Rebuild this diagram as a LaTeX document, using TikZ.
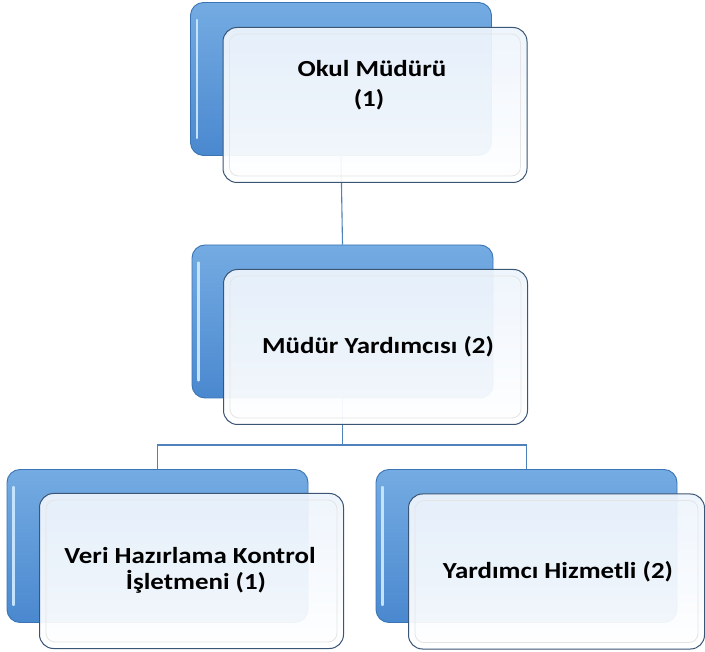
\documentclass[tikz,border=0pt]{standalone}
\usepackage{fontspec}
\setmainfont{Carlito}
\usetikzlibrary{calc}
\definecolor{bbTop}{HTML}{74ABE2}
\definecolor{bbBot}{HTML}{4A88CF}
\definecolor{bbLine}{HTML}{3A74B4}
\definecolor{fbTop}{HTML}{EDF4FC}
\definecolor{fbLine}{HTML}{3B5575}
\definecolor{conn}{HTML}{4F81BD}
\definecolor{hiLite}{HTML}{C4E3FF}
\tikzset{
  backbox/.style={draw=bbLine, line width=0.9pt, rounded corners=13pt,
    top color=bbTop, bottom color=bbBot, minimum width=301pt, minimum height=153pt, inner sep=0pt},
  frontbox/.style={draw=fbLine, line width=1pt, rounded corners=14pt,
    top color=fbTop, bottom color=white, fill opacity=0.94,
    minimum width=304pt, minimum height=155pt, inner sep=0pt},
  innerline/.style={draw=black!10, line width=0.8pt, rounded corners=9pt},
  hl/.style={draw=hiLite, line width=2.5pt, line cap=round},
  connector/.style={draw=conn, line width=1.1pt},
  lbl/.style={font=\bfseries\fontsize{23}{28}\selectfont, anchor=base, inner sep=0pt, text=black}
}
\newcommand{\wide}[1]{\scalebox{1.17}[1]{#1}}
\begin{document}
\begin{tikzpicture}[x=1pt,y=-1pt]
\useasboundingbox (0,0) rectangle (705,652);
\coordinate (p1) at (341,79);
\coordinate (p2) at (342.5,321.5);
\coordinate (p3) at (157.5,546);
\coordinate (p4) at (526.5,546);
\coordinate (bar) at (0,445);
% back boxes
\node[backbox] (b1) at (p1) {};
\node[backbox] (b2) at (p2) {};
\node[backbox] (b3) at (p3) {};
\node[backbox] (b4) at (p4) {};
\foreach \b in {b1,b2,b3,b4}{
  \draw[hl] ($(\b.north west)+(7,18)$) -- ($(\b.south west)+(7,-18)$);
}
% connectors
\draw[connector] (b1.south) -- (b2.north);
\coordinate (j) at (b2.south |- bar);
\draw[connector] (b2.south) -- (j);
\draw[connector] (b3.north) |- (j) -| (b4.north);
% front boxes
\node[frontbox] (f1) at (375,105) {};
\node[frontbox] (f2) at (375.5,347) {};
\node[frontbox] (f3) at (191.5,571) {};
\node[frontbox, minimum width=296pt] (f4) at (556.5,571.5) {};
\foreach \f in {f1,f2,f3,f4}{
  \draw[innerline] ($(\f.north west)+(7,7)$) rectangle ($(\f.south east)+(-7,-7)$);
}
% labels
\node[lbl] (t1a) at (372,77) {\wide{Okul Müdürü}};
\node[lbl] (t1b) at (369,107) {\wide{(1)}};
\node[lbl] (t2) at (378,354) {\wide{Müdür Yardımcısı (2)}};
\node[lbl] (t3a) at (190,564) {\wide{Veri Hazırlama Kontrol}};
\node[lbl] (t3b) at (196,589) {\wide{İşletmeni (1)}};
\node[lbl] (t4) at (558,578) {\wide{Yardımcı Hizmetli (2)}};
\end{tikzpicture}
\end{document}
